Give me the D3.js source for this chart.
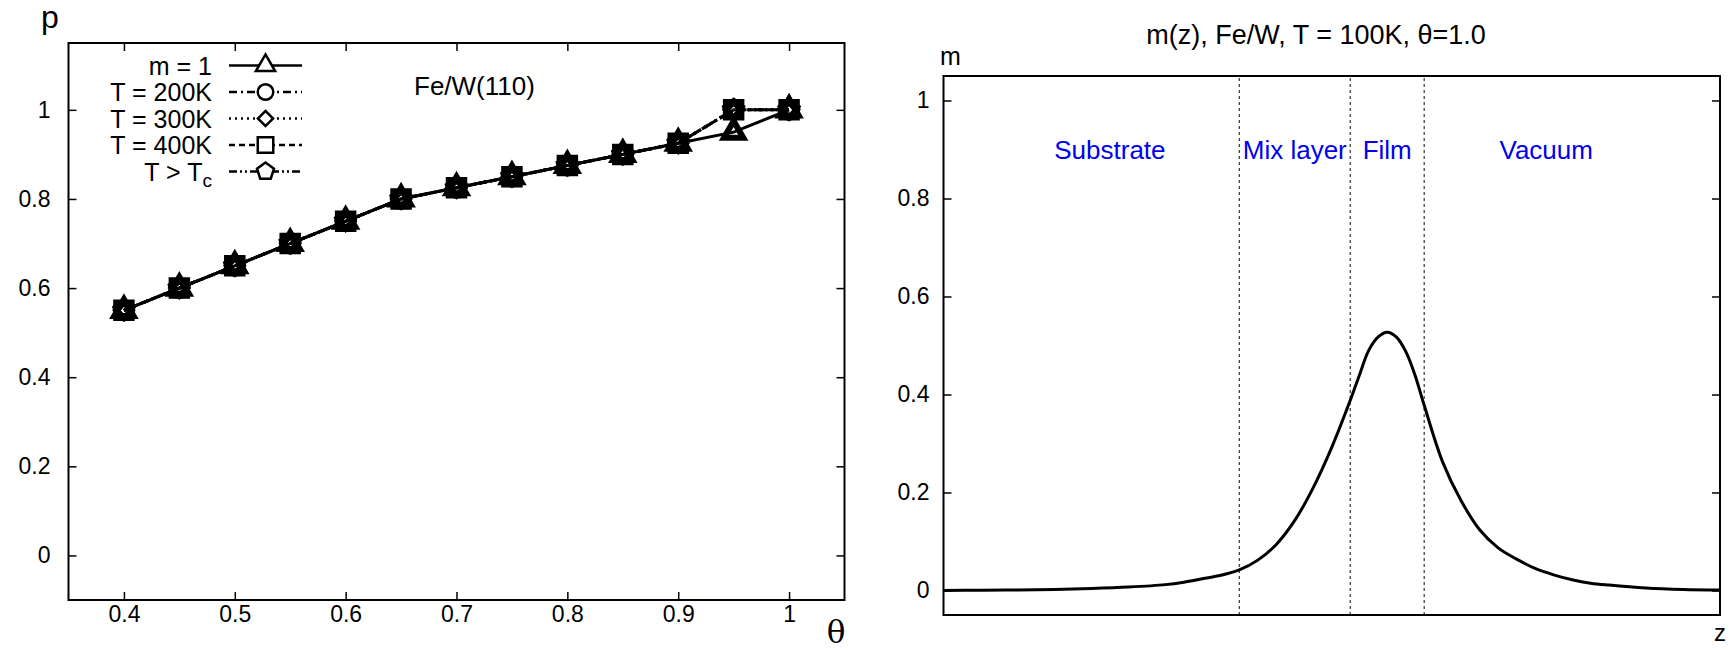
<!DOCTYPE html>
<html>
<head>
<meta charset="utf-8">
<script src="https://cdn.jsdelivr.net/npm/d3@7"></script>
<style>
body { margin: 0; background: #fff; }
svg { display: block; font-family: "Liberation Sans", Arial, Helvetica, sans-serif; }
.axis path { display: none; }
.axis line { stroke: #000; stroke-width: 1.5; }
.axis text { font-size: 23px; fill: #000; font-family: "Liberation Sans", Arial, sans-serif; }
</style>
</head>
<body>
<svg id="chart" width="1731" height="650"></svg>
<script>
// left panel: p(theta) for Fe/W(110)
const theta = [0.4, 0.45, 0.5, 0.55, 0.6, 0.65, 0.7, 0.75, 0.8, 0.85, 0.9, 0.95, 1.0];
const pM1   = [0.55, 0.6, 0.65, 0.7, 0.75, 0.8, 0.825, 0.85, 0.875, 0.9, 0.925, 0.95, 1.0];
const pT200 = [0.55, 0.6, 0.65, 0.7, 0.75, 0.8, 0.825, 0.85, 0.875, 0.9, 0.925, 1.0, 1.0];
const pT300 = [0.55, 0.6, 0.65, 0.7, 0.75, 0.8, 0.825, 0.85, 0.875, 0.9, 0.925, 1.0, 1.0];
const pT400 = [0.55, 0.6, 0.65, 0.7, 0.75, 0.8, 0.825, 0.85, 0.875, 0.9, 0.925, 1.0, 1.0];
const pTc   = [0.55, 0.6, 0.65, 0.7, 0.75, 0.8, 0.825, 0.85, 0.875, 0.9, 0.925, 1.0, 1.0];
const thetaTicks = [0.4, 0.5, 0.6, 0.7, 0.8, 0.9, 1];
const pTicks = [0, 0.2, 0.4, 0.6, 0.8, 1];

// right panel: m(z) profile
const zVals = [0, 1, 2, 3, 4, 5, 6, 6.5, 7, 7.5, 8, 8.5, 9, 9.5, 10, 10.5, 11, 11.25, 11.5, 11.75, 12,
               12.25, 12.5, 12.75, 13, 13.5, 14, 14.5, 15, 15.5, 16, 16.5, 17, 17.5, 18, 19, 20, 21];
const mVals = [0.0, 0.0005, 0.001, 0.002, 0.004, 0.007, 0.012, 0.017, 0.024, 0.031, 0.042, 0.062, 0.094, 0.143, 0.21, 0.292, 0.388, 0.44, 0.49, 0.517, 0.527,
               0.517, 0.488, 0.44, 0.378, 0.262, 0.183, 0.124, 0.087, 0.064, 0.045, 0.032, 0.022, 0.015, 0.011, 0.005, 0.002, 0.001];
const mTicks = [0, 0.2, 0.4, 0.6, 0.8, 1];
const boundaries = [8, 11, 13];
const regionNames = ["Substrate", "Mix layer", "Film", "Vacuum"];
const regionZ = [4.5, 9.5, 12, 16.3];

const svg = d3.select("#chart");
const fmt = d3.format("");

// pentagon symbol, like gnuplot's point type
const symbolPentagon = {
    draw(ctx, size) {
        const r = Math.sqrt(size / 2.378);
        for (let i = 0; i < 5; i++) {
            const a = -Math.PI / 2 + i * 2 * Math.PI / 5;
            if (i === 0) ctx.moveTo(r * Math.cos(a), r * Math.sin(a));
            else ctx.lineTo(r * Math.cos(a), r * Math.sin(a));
        }
        ctx.closePath();
    }
};

// ---------- left panel ----------
const xL = d3.scaleLinear().domain([0.35, 1.05]).range([68.5, 844.5]);
const yL = d3.scaleLinear().domain([-0.1, 1.15]).range([600, 43]);

svg.append("g").attr("class", "axis")
    .attr("transform", `translate(0,${yL.range()[0]})`)
    .call(d3.axisBottom(xL).tickValues(thetaTicks).tickSizeInner(-8).tickSizeOuter(0).tickPadding(6).tickFormat(fmt));
svg.append("g").attr("class", "axis")
    .attr("transform", `translate(0,${yL.range()[1]})`)
    .call(d3.axisTop(xL).tickValues(thetaTicks).tickSizeInner(-8).tickSizeOuter(0).tickFormat(""));
svg.append("g").attr("class", "axis")
    .attr("transform", `translate(${xL.range()[0]},0)`)
    .call(d3.axisLeft(yL).tickValues(pTicks).tickSizeInner(-8).tickSizeOuter(0).tickPadding(18).tickFormat(fmt));
svg.append("g").attr("class", "axis")
    .attr("transform", `translate(${xL.range()[1]},0)`)
    .call(d3.axisRight(yL).tickValues(pTicks).tickSizeInner(-8).tickSizeOuter(0).tickFormat(""));

svg.append("rect")
    .attr("x", xL.range()[0]).attr("y", yL.range()[1])
    .attr("width", xL.range()[1] - xL.range()[0])
    .attr("height", yL.range()[0] - yL.range()[1])
    .attr("fill", "none").attr("stroke", "#000").attr("stroke-width", 2);

const series = [
    { name: "m = 1",    values: pM1,   dash: null,             symbol: d3.symbolTriangle, size: 160, rot: 0 },
    { name: "T = 200K", values: pT200, dash: "8,4,2,4",        symbol: d3.symbolCircle,   size: 190, rot: 0 },
    { name: "T = 300K", values: pT300, dash: "2,4",            symbol: d3.symbolSquare,   size: 115, rot: 45 },
    { name: "T = 400K", values: pT400, dash: "6,4",            symbol: d3.symbolSquare,   size: 240, rot: 0 },
    { name: "T > Tc",   values: pTc,   dash: "8,3,2,3,2,3",    symbol: symbolPentagon,    size: 190, rot: 0 }
];

const line = d3.line()
    .x((d, i) => xL(theta[i]))
    .y(d => yL(d));

series.forEach(s => {
    svg.append("path")
        .datum(s.values)
        .attr("d", line)
        .attr("fill", "none")
        .attr("stroke", "#000")
        .attr("stroke-width", 3)
        .attr("stroke-dasharray", s.dash);
});
series.forEach(s => {
    svg.selectAll(null)
        .data(s.values)
        .enter()
        .append("path")
        .attr("transform", (d, i) => `translate(${xL(theta[i])},${yL(d)}) rotate(${s.rot})`)
        .attr("d", d3.symbol().type(s.symbol).size(s.size))
        .attr("fill", "none")
        .attr("stroke", "#000")
        .attr("stroke-width", 6);
});

// legend
const legend = svg.append("g");
series.forEach((s, i) => {
    const ly = 65.5 + i * 26.5;
    const t = legend.append("text")
        .attr("x", 212).attr("y", ly)
        .attr("text-anchor", "end")
        .attr("dominant-baseline", "central")
        .attr("font-size", 25);
    if (s.name === "T > Tc") {
        t.append("tspan").text("T > T");
        t.append("tspan").attr("font-size", 19).attr("dy", 8).text("c");
    } else {
        t.text(s.name);
    }
    legend.append("line")
        .attr("x1", 229).attr("x2", 302).attr("y1", ly).attr("y2", ly)
        .attr("stroke", "#000").attr("stroke-width", 2.5)
        .attr("stroke-dasharray", s.dash);
    legend.append("path")
        .attr("transform", `translate(265.5,${ly}) rotate(${s.rot})`)
        .attr("d", d3.symbol().type(s.symbol).size(s.size))
        .attr("fill", "#fff")
        .attr("stroke", "#000")
        .attr("stroke-width", 2.5);
});

svg.append("text").attr("x", 414).attr("y", 95).attr("font-size", 26).text("Fe/W(110)");
svg.append("text").attr("x", 41).attr("y", 28).attr("font-size", 32).text("p");
svg.append("text").attr("x", 836).attr("y", 643).attr("text-anchor", "middle")
    .attr("font-size", 31).attr("font-family", "DejaVu Serif, serif").text("θ");

// ---------- right panel ----------
const xR = d3.scaleLinear().domain([0, 21]).range([943.5, 1720]);
const yR = d3.scaleLinear().domain([-0.05, 1.05]).range([615, 76]);

svg.append("g").attr("class", "axis")
    .attr("transform", `translate(${xR.range()[0]},0)`)
    .call(d3.axisLeft(yR).tickValues(mTicks).tickSizeInner(-8).tickSizeOuter(0).tickPadding(14).tickFormat(fmt));
svg.append("g").attr("class", "axis")
    .attr("transform", `translate(${xR.range()[1]},0)`)
    .call(d3.axisRight(yR).tickValues(mTicks).tickSizeInner(-8).tickSizeOuter(0).tickFormat(""));

svg.selectAll(".bound")
    .data(boundaries)
    .enter()
    .append("line")
    .attr("class", "bound")
    .attr("x1", d => xR(d)).attr("x2", d => xR(d))
    .attr("y1", yR.range()[0]).attr("y2", yR.range()[1])
    .attr("stroke", "#333").attr("stroke-width", 1.2)
    .attr("stroke-dasharray", "3,3");

svg.append("rect")
    .attr("x", xR.range()[0]).attr("y", yR.range()[1])
    .attr("width", xR.range()[1] - xR.range()[0])
    .attr("height", yR.range()[0] - yR.range()[1])
    .attr("fill", "none").attr("stroke", "#000").attr("stroke-width", 2);

const mLine = d3.line()
    .x((d, i) => xR(zVals[i]))
    .y(d => yR(d))
    .curve(d3.curveCatmullRom.alpha(0.5));

svg.append("path")
    .datum(mVals)
    .attr("d", mLine)
    .attr("fill", "none")
    .attr("stroke", "#000")
    .attr("stroke-width", 3);

svg.selectAll(".region")
    .data(regionNames)
    .enter()
    .append("text")
    .attr("class", "region")
    .attr("x", (d, i) => xR(regionZ[i]))
    .attr("y", yR(0.9))
    .attr("text-anchor", "middle")
    .attr("dominant-baseline", "central")
    .attr("font-size", 26)
    .attr("fill", "#0000ee")
    .text(d => d);

svg.append("text").attr("x", 1316).attr("y", 44).attr("text-anchor", "middle")
    .attr("font-size", 27).text("m(z), Fe/W, T = 100K, θ=1.0");
svg.append("text").attr("x", 940).attr("y", 65).attr("font-size", 25).text("m");
svg.append("text").attr("x", 1714).attr("y", 641).attr("font-size", 24).text("z");
</script>
</body>
</html>
